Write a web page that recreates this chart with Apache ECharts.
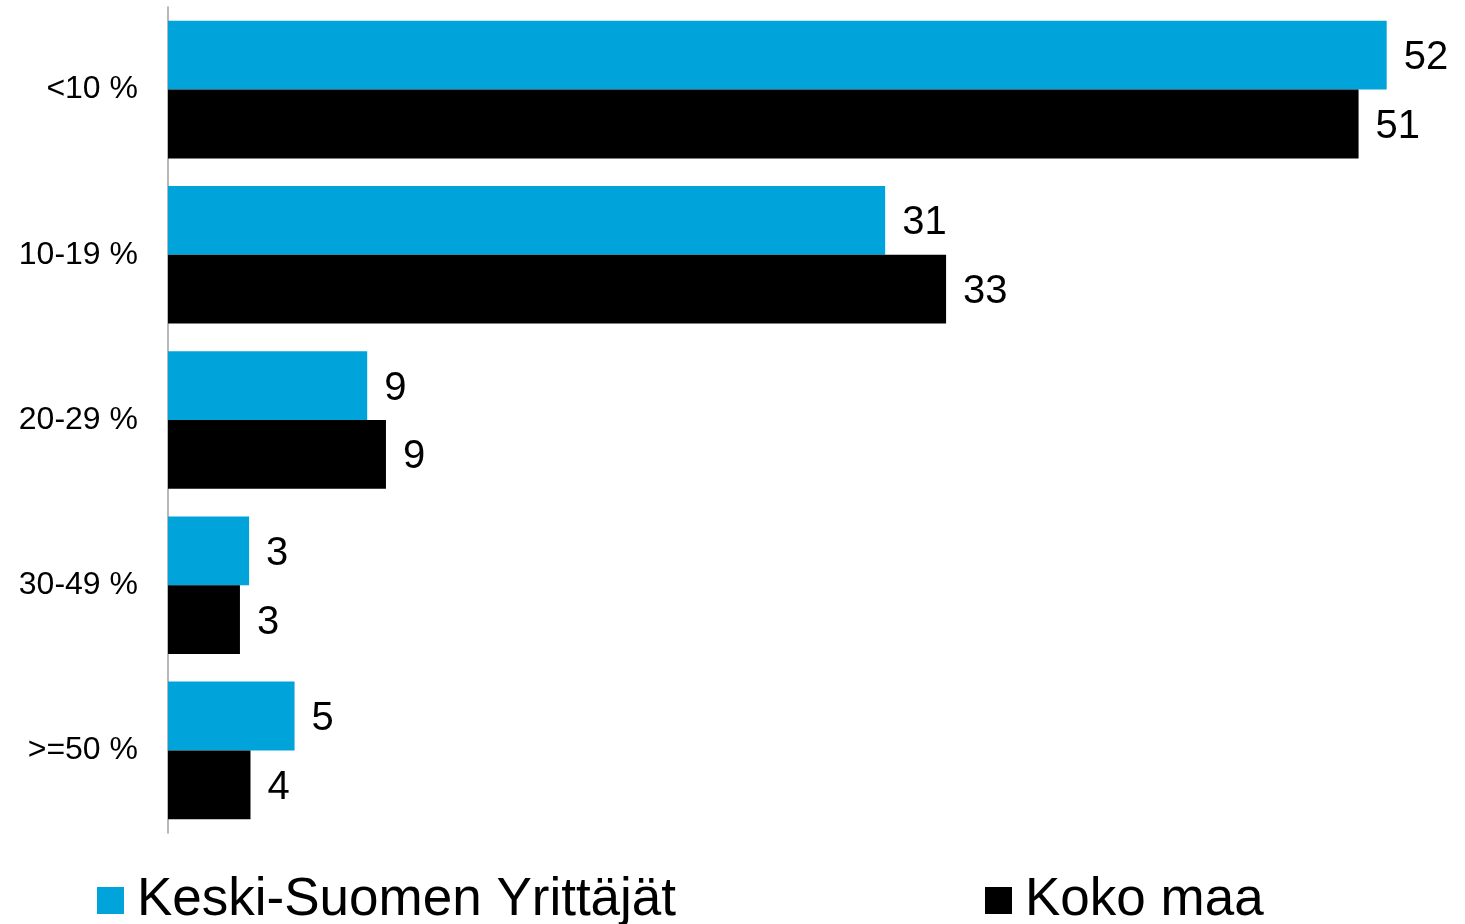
<!DOCTYPE html>
<html>
<head>
<meta charset="utf-8">
<script src="https://cdn.jsdelivr.net/npm/echarts@6/dist/echarts.min.js"></script>
<style>
  html, body { margin: 0; padding: 0; background: #fff; }
  #chart { width: 1465px; height: 924px; }
</style>
</head>
<body>
<div id="chart"></div>
<script>
// categories, top to bottom
const categories = ["<10 %", "10-19 %", "20-29 %", "30-49 %", ">=50 %"];
const seriesNames = ["Keski-Suomen Yrittäjät", "Koko maa"];
// values
const keskiSuomi = [52.0, 30.6, 8.5, 3.46, 5.4];
const kokoMaa = [50.8, 33.2, 9.3, 3.07, 3.52];

var myChart = echarts.init(document.getElementById("chart"));
const font = "'Liberation Sans', Arial, sans-serif";

const labelStyle = {
  show: true,
  position: "right",
  distance: 15,
  offset: [2, 3],
  color: "#000",
  fontSize: 40,
  fontFamily: font,
  formatter: function (p) {
    return Math.round(p.value);
  },
};

const legendText = {
  fontSize: 53,
  color: "#000",
  fontFamily: font,
  padding: [0, 0, 0, 8],
};

var option = {
  backgroundColor: "#fff",
  animation: false,
  grid: {
    left: 168,
    right: 8,
    top: 7,
    bottom: 91,
  },
  legend: [
    {
      data: [seriesNames[0]],
      left: 92,
      top: 869,
      icon: "rect",
      itemWidth: 27,
      itemHeight: 27,
      textStyle: legendText,
    },
    {
      data: [seriesNames[1]],
      left: 980,
      top: 869,
      icon: "rect",
      itemWidth: 27,
      itemHeight: 27,
      textStyle: legendText,
    },
  ],
  xAxis: {
    type: "value",
    min: 0,
    max: 55,
    show: false,
    splitLine: { show: false },
  },
  yAxis: {
    type: "category",
    data: categories,
    inverse: true,
    axisLine: {
      show: true,
      lineStyle: { color: "#a0a0a0", width: 1.5 },
    },
    axisTick: { show: false },
    axisLabel: {
      margin: 30,
      color: "#000",
      fontSize: 32,
      fontFamily: font,
    },
  },
  series: [
    {
      name: seriesNames[0],
      type: "bar",
      data: keskiSuomi,
      barGap: "0%",
      barCategoryGap: "16.7%",
      itemStyle: { color: "#00a3da" },
      label: labelStyle,
    },
    {
      name: seriesNames[1],
      type: "bar",
      data: kokoMaa,
      barGap: "0%",
      barCategoryGap: "16.7%",
      itemStyle: { color: "#000000" },
      label: labelStyle,
    },
  ],
};

option && myChart.setOption(option);
</script>
</body>
</html>
